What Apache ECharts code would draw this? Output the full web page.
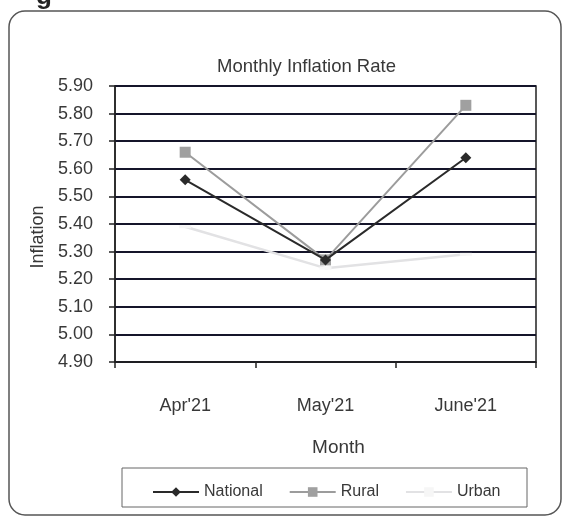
<!DOCTYPE html>
<html>
<head>
<meta charset="utf-8">
<script src="https://cdn.jsdelivr.net/npm/echarts@6/dist/echarts.min.js"></script>
<style>
html,body{margin:0;padding:0;background:#fff;}
#chart{width:570px;height:520px;}
</style>
</head>
<body>
<div id="chart"></div>
<script>
const categories = ["Apr'21", "May'21", "June'21"];
const national = [5.56, 5.27, 5.64];
const rural = [5.66, 5.27, 5.83];
const urban = [5.39, 5.24, 5.29];
const yMin = 4.90, yMax = 5.90, yStep = 0.10;

const FONT = '"Liberation Sans", Arial, sans-serif';
const TXT = '#383838';

const chart = echarts.init(document.getElementById('chart'), null, {renderer: 'canvas'});
chart.setOption({
  backgroundColor: '#fff',
  animation: false,
  title: {
    text: 'Monthly Inflation Rate',
    left: 212, top: 52,
    textStyle: {fontFamily: FONT, fontSize: 18.5, fontWeight: 'normal', color: TXT}
  },
  grid: {left: 115, right: 34, top: 86, bottom: 158, show: true, borderColor: '#222', borderWidth: 1.5},
  xAxis: {
    type: 'category', data: categories, boundaryGap: true,
    name: 'Month', nameLocation: 'middle', nameGap: 76,
    nameTextStyle: {fontFamily: FONT, fontSize: 19, color: TXT, padding: [0, 0, 0, 26]},
    axisLine: {lineStyle: {color: '#222', width: 1.5}},
    axisTick: {show: true, length: 6, lineStyle: {color: '#222', width: 1.5}},
    axisLabel: {fontFamily: FONT, fontSize: 18, color: TXT, margin: 35}
  },
  yAxis: {
    type: 'value', min: yMin, max: yMax, interval: yStep,
    name: 'Inflation', nameLocation: 'middle', nameGap: 64,
    nameTextStyle: {fontFamily: FONT, fontSize: 18, color: TXT, padding: [0, 26, 0, 0]},
    axisLine: {show: true, lineStyle: {color: '#222', width: 1.5}},
    axisTick: {show: true, length: 6, lineStyle: {color: '#222', width: 1.5}},
    axisLabel: {fontFamily: FONT, fontSize: 18, color: TXT, margin: 22, formatter: v => v.toFixed(2)},
    splitLine: {show: true, lineStyle: {color: '#15152a', width: 2}}
  },
  legend: {
    left: 147, top: 479,
    itemWidth: 46, itemHeight: 12, itemGap: 26,
    textStyle: {fontFamily: FONT, fontSize: 16, color: TXT},
    data: ['National', 'Rural', 'Urban']
  },
  series: [
    {name: 'Urban', type: 'line', data: urban, symbol: 'rect', symbolSize: [12, 3],
     lineStyle: {color: '#e2e2e4', width: 2.5}, itemStyle: {color: '#f6f6f6'}, z: 2},
    {name: 'Rural', type: 'line', data: rural, symbol: 'rect', symbolSize: 11,
     lineStyle: {color: '#9c9c9c', width: 2}, itemStyle: {color: '#a0a0a0'}, z: 3},
    {name: 'National', type: 'line', data: national, symbol: 'diamond', symbolSize: 11,
     lineStyle: {color: '#2a2a2a', width: 2}, itemStyle: {color: '#2a2a2a'}, z: 4}
  ],
  graphic: [
    {type: 'rect', shape: {x: 9, y: 11, width: 552, height: 504, r: 16},
     style: {fill: 'none', stroke: '#555', lineWidth: 1.5}, z: -1},
    {type: 'rect', shape: {x: 122, y: 468, width: 405, height: 39},
     style: {fill: 'none', stroke: '#666', lineWidth: 1}, z: -1},
    {type: 'text', left: 36, top: -16,
     style: {text: 'g', font: 'bold 26px "Liberation Sans", Arial, sans-serif', fill: '#222'}}
  ]
});
</script>
</body>
</html>
